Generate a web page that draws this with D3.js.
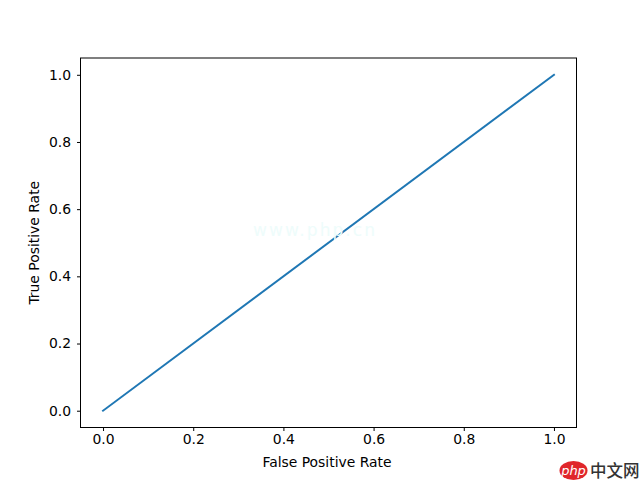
<!DOCTYPE html>
<html>
<head>
<meta charset="utf-8">
<script src="https://cdn.jsdelivr.net/npm/d3@7/dist/d3.min.js"></script>
<style>
html,body{margin:0;padding:0;background:#fff;}
svg{display:block;}
text{font-family:"DejaVu Sans",sans-serif;fill:#000;}
</style>
</head>
<body>
<svg id="chart" width="640" height="480"></svg>
<script>
const fprValues = [0, 1];
const tprValues = [0, 1];
const tickValues = [0, 0.2, 0.4, 0.6, 0.8, 1];
const xLabel = "False Positive Rate";
const yLabel = "True Positive Rate";
const watermarkUrl = "www.php.cn";
const logoLatin = "php";
const logoCjk = "中文网";

const svg = d3.select("#chart");
const m = {l:80.5, r:576.5, t:58, b:427.5};
const x = d3.scaleLinear().domain([-0.05, 1.05]).range([m.l, m.r]);
const y = d3.scaleLinear().domain([-0.05, 1.05]).range([m.b, m.t]);

const line = d3.line().x(d => x(d[0])).y(d => y(d[1]));
svg.append("path")
  .datum(fprValues.map((v, i) => [v, tprValues[i]]))
  .attr("d", line).attr("fill", "none")
  .attr("stroke", "#1f77b4").attr("stroke-width", 2).attr("stroke-linecap", "square");

// faint watermark across the plot centre
svg.append("text").attr("x", 314).attr("y", 236).attr("text-anchor", "middle")
  .attr("font-size", 17).attr("textLength", 122).style("fill", "#eefcfb").text(watermarkUrl);

const fmt = d3.format(".1f");
const xAxis = d3.axisBottom(x).tickValues(tickValues).tickFormat(fmt).tickSize(3.5).tickPadding(3.5);
const yAxis = d3.axisLeft(y).tickValues(tickValues).tickFormat(fmt).tickSize(3.5).tickPadding(6);
const gx = svg.append("g").attr("transform", `translate(0,${m.b})`).call(xAxis);
const gy = svg.append("g").attr("transform", `translate(${m.l},0)`).call(yAxis);
[gx, gy].forEach(g => {
  g.select(".domain").remove();
  g.selectAll("line").attr("stroke", "#000").attr("stroke-width", 1);
  g.selectAll("text").attr("font-size", 13.9).style("font-family", '"DejaVu Sans"');
});

svg.append("rect").attr("x", m.l).attr("y", m.t)
  .attr("width", m.r - m.l).attr("height", m.b - m.t)
  .attr("fill", "none").attr("stroke", "#000").attr("stroke-width", 1);

svg.append("text").attr("x", (m.l + m.r) / 2 - 1.5).attr("y", 467).attr("text-anchor", "middle")
  .attr("font-size", 13.9).text(xLabel);
svg.append("text").attr("transform", `translate(39,${(m.t + m.b) / 2}) rotate(-90)`)
  .attr("text-anchor", "middle").attr("font-size", 13.9).text(yLabel);

// site logo, bottom right
svg.append("ellipse").attr("cx", 573.5).attr("cy", 470.5).attr("rx", 14).attr("ry", 9.5).attr("fill", "#e0262b");
svg.append("text").attr("x", 573.5).attr("y", 474.5).attr("text-anchor", "middle")
  .attr("font-size", 13).attr("font-style", "italic").style("fill", "#fff").text(logoLatin);
svg.append("text").attr("x", 590).attr("y", 476.5).attr("font-size", 16.5)
  .style("font-family", '"Noto Sans CJK SC"').style("font-weight", 500).style("fill", "#333").text(logoCjk);
</script>
</body>
</html>
